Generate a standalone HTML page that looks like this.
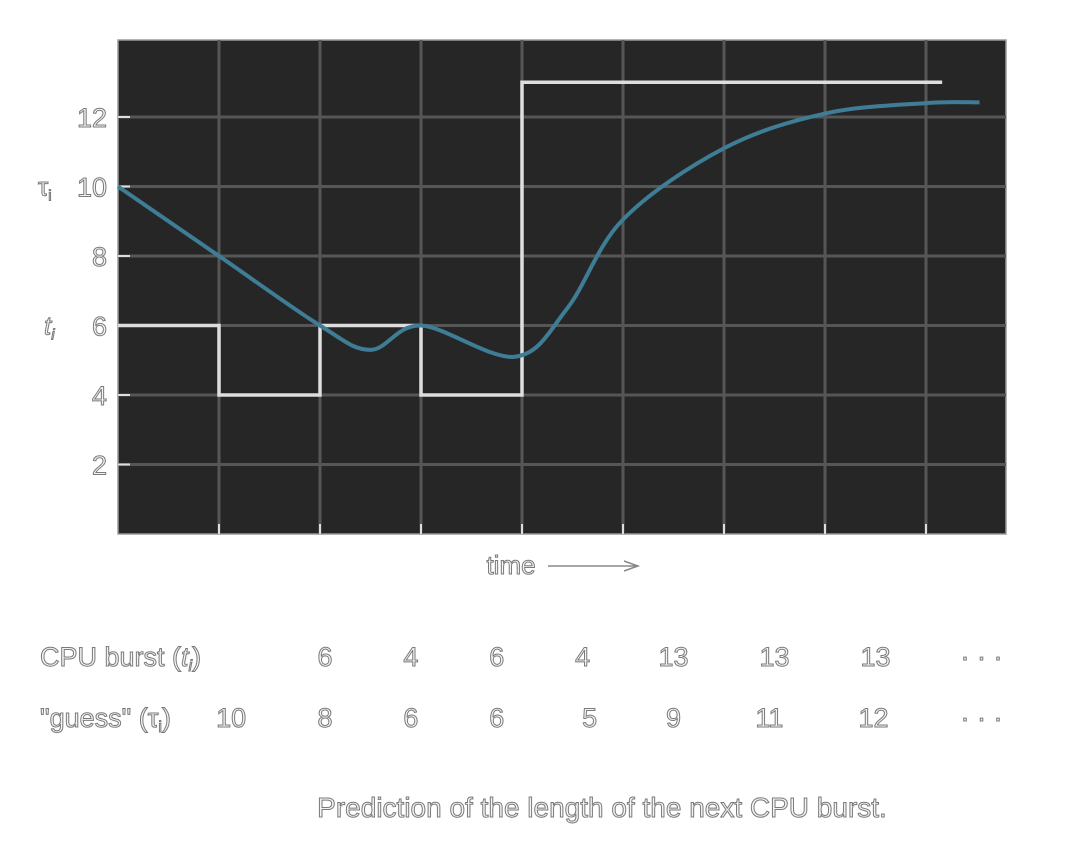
<!DOCTYPE html>
<html><head><meta charset="utf-8"><style>
body{margin:0;background:#fff;width:1078px;height:848px;overflow:hidden;font-family:"Liberation Sans",sans-serif}
svg text{font-family:"Liberation Sans",sans-serif;fill:#f4f4f4;stroke:#7a7a7a;stroke-width:1px}
</style></head><body>
<svg width="1078" height="848">
<g id="grid"></g><g id="marks"></g><g id="labels"></g>
</svg>
<script>
const xTicks=[0,1,2,3,4,5,6,7,8];
const yTicks=[2,4,6,8,10,12];
const burstX=[0,1,2,3,4,8.16];
const burstY=[6,4,6,4,13];
const guessX=[0,1,2,2.5,3,3.93,4.45,5,6,7,8,8.53];
const guessY=[10,8,6,5.3,6,5.1,6.5,9.05,11.1,12.1,12.4,12.42];
const row1Label="CPU burst";
const row1=["6","4","6","4","13","13","13","· · ·"];
const row1Pos=[2.05,2.9,3.75,4.6,5.5,6.5,7.5,8.55];
const row2=["10","8","6","6","5","9","11","12","· · ·"];
const row2Pos=[1.12,2.05,2.9,3.75,4.67,5.5,6.45,7.48,8.55];

const L=118,T=40,R=1006,B=534;
const xs=v=>L+v*101, ys=v=>B-v*34.75;
const NS="http://www.w3.org/2000/svg";
function mk(tag,attrs,parent){const e=document.createElementNS(NS,tag);for(const k in attrs)e.setAttribute(k,attrs[k]);parent.appendChild(e);return e;}
const grid=document.getElementById('grid'),marks=document.getElementById('marks'),lab=document.getElementById('labels');
let bg=mk('rect',{x:L,y:T,width:R-L,height:B-T,fill:'#262626',stroke:'#9a9a9a','stroke-width':1.5},grid);


xTicks.forEach(v=>{if(v===0)return;
 let l=mk('line',{x1:xs(v),x2:xs(v),y1:T,y2:B,stroke:'#565656','stroke-width':3},grid);
 
 
 let t=mk('line',{x1:xs(v),x2:xs(v),y1:B-10,y2:B,stroke:'#ddd','stroke-width':2},grid);
 
 
});
yTicks.forEach(v=>{
 let l=mk('line',{x1:L,x2:R,y1:ys(v),y2:ys(v),stroke:'#565656','stroke-width':3},grid);
 
 
 let t=mk('line',{x1:L,x2:L+12,y1:ys(v),y2:ys(v),stroke:'#ddd','stroke-width':2},grid);
 
 
 let tx=mk('text',{x:107,y:ys(v)+10,'text-anchor':'end','font-size':27},lab);tx.textContent=v;
 
 
});
let d='M'+xs(burstX[0])+','+ys(burstY[0]);
for(let i=0;i<burstY.length;i++){d+=' L'+xs(burstX[i])+','+ys(burstY[i])+' L'+xs(burstX[i+1])+','+ys(burstY[i]);}
let bp=mk('path',{d:d,fill:'none',stroke:'#dedede','stroke-width':3.5},marks);


const P=guessX.map((x,i)=>[xs(x),ys(guessY[i])]);
let g='M'+P[0][0]+','+P[0][1];
for(let i=0;i<P.length-1;i++){const p0=P[Math.max(0,i-1)],p1=P[i],p2=P[i+1],p3=P[Math.min(P.length-1,i+2)];
 g+=' C'+(p1[0]+(p2[0]-p0[0])/6)+','+(p1[1]+(p2[1]-p0[1])/6)+' '+(p2[0]-(p3[0]-p1[0])/6)+','+(p2[1]-(p3[1]-p1[1])/6)+' '+p2[0]+','+p2[1];}
let gp=mk('path',{d:g,fill:'none',stroke:'#3f7d96','stroke-width':4},marks);


function txt(s,x,y,size,anchor,name){let t=mk('text',{x:x,y:y,'font-size':size,'text-anchor':anchor||'middle'},lab);t.innerHTML=s;
 
 return t;}
txt('τ<tspan font-size="15" dy="5">i</tspan>',38,ys(10)+9,26,'start','tau-axis-label');
txt('<tspan font-style="italic">t</tspan><tspan font-size="15" dy="5" font-style="italic">i</tspan>',44,ys(6)+9,26,'start','t-axis-label');
txt('time',511,574,26,'middle','x-axis-title');
let ar=mk('path',{d:'M548,566 L636,566 M624,561 L638,566 L624,571',fill:'none',stroke:'#888','stroke-width':1.5},lab);


txt(row1Label+' (<tspan font-style="italic">t</tspan><tspan font-size="16" dy="5" font-style="italic">i</tspan><tspan dy="-5">)</tspan>',40,666,27,'start','cpu-burst-row-label');
txt('"guess" (τ<tspan font-size="16" dy="5">i</tspan><tspan dy="-5">)</tspan>',40,727,27,'start','guess-row-label');
row1.forEach((s,i)=>txt(s,xs(row1Pos[i]),666,27,'middle','cpu-burst-value'));
row2.forEach((s,i)=>txt(s,xs(row2Pos[i]),727,27,'middle','guess-value'));
txt('Prediction of the length of the next CPU burst.',602,817,28,'middle','caption');
</script>
</body></html>
